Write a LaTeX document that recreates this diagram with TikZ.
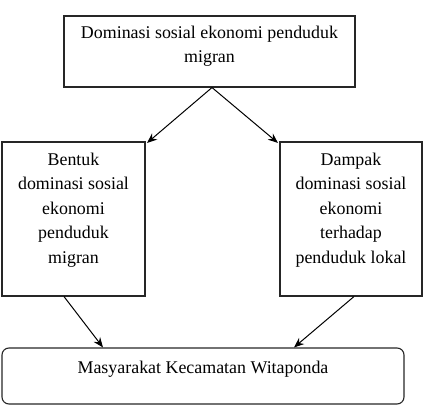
\documentclass[tikz,border=0pt]{standalone}
\usepackage{fontspec}
\setmainfont{Liberation Serif}
\usetikzlibrary{arrows.meta}
\begin{document}
\begin{tikzpicture}[x=1pt,y=-1pt,
  boxstyle/.style={draw=black!85, line width=1.1pt, inner sep=0pt},
  txt/.style={inner sep=0pt, align=center, anchor=north, font=\fontsize{17.9}{24.5}\selectfont},
  conn/.style={line width=1pt, -{Stealth[length=10pt,width=8pt]}}]
\useasboundingbox (0,0) rectangle (424,414);
\node[boxstyle, minimum width=291pt, minimum height=71pt] (top) at (209.5,51.5) {};
\node[boxstyle, minimum width=143pt, minimum height=154pt] (left) at (73.5,219) {};
\node[boxstyle, minimum width=142pt, minimum height=154pt] (right) at (351,219) {};
\node[boxstyle, rounded corners=7pt, minimum width=402pt, minimum height=56pt] (bot) at (203,376) {};
\node[txt] (toptext) at (209.5,25.7) {Dominasi sosial ekonomi penduduk\\migran};
\node[txt] (lefttext) at (73.5,152.8) {Bentuk\\dominasi sosial\\ekonomi\\penduduk\\migran};
\node[txt] (righttext) at (351,152.8) {Dampak\\dominasi sosial\\ekonomi\\terhadap\\penduduk lokal};
\node[txt] (bottext) at (203,360.8) {Masyarakat Kecamatan Witaponda};
\draw[conn] ([xshift=2.5pt]top.south) -- ([xshift=1.5pt,yshift=-1.5pt]left.north east);
\draw[conn] ([xshift=2.5pt]top.south) -- ([xshift=-1.5pt,yshift=-1.5pt]right.north west);
\draw[conn] ([xshift=-9.5pt]left.south) -- ([xshift=-100pt]bot.north);
\draw[conn] ([xshift=3pt]right.south) -- ([xshift=91pt]bot.north);
\end{tikzpicture}
\end{document}
